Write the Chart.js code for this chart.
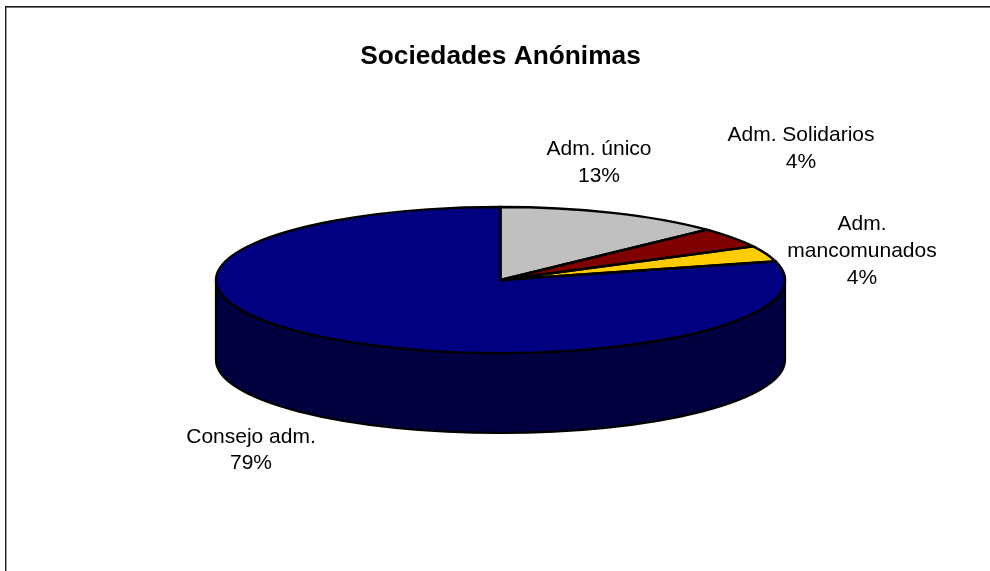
<!DOCTYPE html>
<html><head><meta charset="utf-8">
<style>html,body{margin:0;padding:0;background:#fff;overflow:hidden}#w{position:absolute;left:0;top:0;width:990px;height:571px}</style>
<script src="https://cdn.jsdelivr.net/npm/chart.js@4"></script>
</head><body><div id="w"><canvas id="c"></canvas></div>
<script>
// Data
const categories = ["Adm. único", "Adm. Solidarios", "Adm. mancomunados", "Consejo adm."];
const shares = [12.9, 4.49, 3.5, 79.11];
const sliceColors = ["#C0C0C0", "#800000", "#FFCC00", "#000080"];
const wallColors = ["#606060", "#400000", "#806600", "#000040"];
const chartTitle = "Sociedades Anónimas";

// Layout of the tilted pie and its labels
const tilt = { cx: 500.5, cy: 280, rx: 284.5, ry: 73, depth: 80 };
const labelLines = [["Adm. único"], ["Adm. Solidarios"], ["Adm.", "mancomunados"], ["Consejo adm."]];
const labelAnchors = [[599, 149.5], [801, 135.5], [862, 224.5], [251, 437]];
const labelStep = 26.7;

const tiltPlugin = {
  id: "tilt",
  beforeDatasetsDraw(chart) {
    const ctx = chart.ctx, arcs = chart.getDatasetMeta(0).data;
    const { cx, cy, rx, ry, depth } = tilt;
    ctx.save();
    ctx.lineWidth = 2.2; ctx.strokeStyle = "#000"; ctx.lineJoin = "round";
    arcs.forEach((a, i) => {
      const s = Math.max(a.startAngle, 0), e = Math.min(a.endAngle, Math.PI);
      if (e <= s) return;
      ctx.beginPath();
      ctx.ellipse(cx, cy, rx, ry, 0, s, e);
      ctx.ellipse(cx, cy + depth, rx, ry, 0, e, s, true);
      ctx.closePath();
      ctx.fillStyle = wallColors[i];
      ctx.fill(); ctx.stroke();
    });
    ctx.restore();
    const a0 = arcs[0];
    ctx.save();
    ctx.translate(cx, cy);
    ctx.scale(1, ry / rx);
    ctx.translate(-a0.x, -a0.y);
  },
  afterDatasetsDraw(chart) {
    const ctx = chart.ctx, arcs = chart.getDatasetMeta(0).data;
    ctx.restore();
    const { cx, cy, rx, ry } = tilt;
    ctx.save();
    ctx.lineWidth = 2.4; ctx.strokeStyle = "#000"; ctx.lineJoin = "miter";
    arcs.forEach(a => {
      ctx.beginPath();
      ctx.moveTo(cx, cy);
      ctx.ellipse(cx, cy, rx, ry, 0, a.startAngle, a.endAngle);
      ctx.closePath();
      ctx.stroke();
    });
    ctx.fillStyle = "#000";
    ctx.font = '21px "Liberation Sans", Arial, sans-serif';
    ctx.textAlign = "center"; ctx.textBaseline = "middle";
    const total = shares.reduce((p, v) => p + v, 0);
    labelLines.forEach((lines, i) => {
      const all = lines.concat(Math.round(shares[i] / total * 100) + "%");
      all.forEach((t, j) => ctx.fillText(t, labelAnchors[i][0], labelAnchors[i][1] + j * labelStep));
    });
    ctx.restore();
  },
  beforeDraw(chart) {
    const ctx = chart.ctx;
    ctx.save();
    ctx.fillStyle = "#1a1a1a";
    ctx.fillRect(5, 6, 985, 1.6);
    ctx.fillRect(5, 6, 1.4, 565);
    ctx.restore();
  }
};

new Chart(document.getElementById("c"), {
  type: "pie",
  plugins: [tiltPlugin],
  data: { labels: categories, datasets: [{ data: shares, backgroundColor: sliceColors, borderWidth: 0, hoverOffset: 0 }] },
  options: {
    responsive: true, maintainAspectRatio: false, animation: false,
    radius: tilt.rx,
    layout: { padding: { left: 11, right: 0, top: 0, bottom: 0 } },
    events: [],
    plugins: {
      legend: { display: false },
      tooltip: { enabled: false },
      title: {
        display: true, text: chartTitle, color: "#000",
        font: { family: '"Liberation Sans", Arial, sans-serif', size: 26.3, weight: "bold" },
        padding: { top: 41, bottom: 10 }
      }
    }
  }
});
</script></body></html>
